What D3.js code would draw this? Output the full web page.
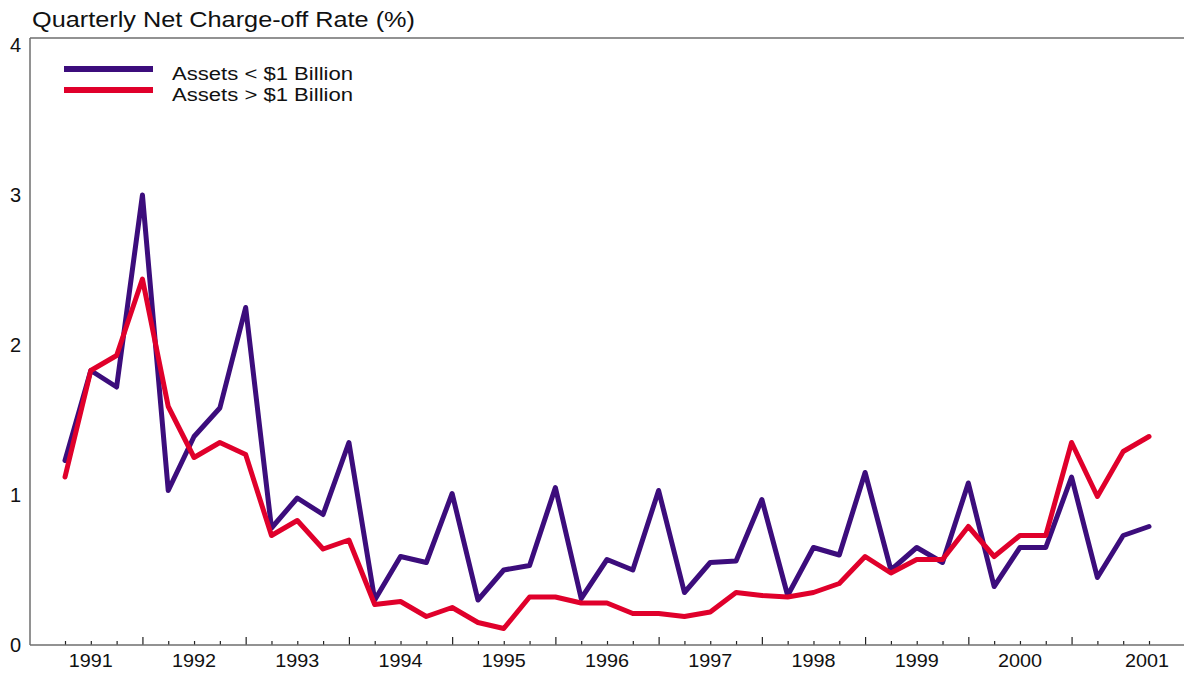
<!DOCTYPE html>
<html>
<head>
<meta charset="utf-8">
<script src="https://cdn.jsdelivr.net/npm/d3@7"></script>
<style>
  body { margin: 0; background: #fff; }
  svg { font-family: "Liberation Sans", Arial, sans-serif; }
</style>
</head>
<body>
<svg id="SVG_CONTAINER" width="1184" height="681"></svg>
<script>
// quarterly net charge-off rate (%), 1991 Q1 .. 2001 Q3
const years = [1991, 1992, 1993, 1994, 1995, 1996, 1997, 1998, 1999, 2000, 2001];
const yTicks = [0, 1, 2, 3, 4];
const smallBanks = [1.23, 1.83, 1.72, 3.00, 1.03, 1.39, 1.58, 2.25, 0.78, 0.98, 0.87, 1.35,
    0.30, 0.59, 0.55, 1.01, 0.30, 0.50, 0.53, 1.05, 0.31, 0.57, 0.50, 1.03,
    0.35, 0.55, 0.56, 0.97, 0.33, 0.65, 0.60, 1.15, 0.50, 0.65, 0.55, 1.08,
    0.39, 0.65, 0.65, 1.12, 0.45, 0.73, 0.79];
const largeBanks = [1.12, 1.83, 1.93, 2.44, 1.59, 1.25, 1.35, 1.27, 0.73, 0.83, 0.64, 0.70,
    0.27, 0.29, 0.19, 0.25, 0.15, 0.11, 0.32, 0.32, 0.28, 0.28, 0.21, 0.21,
    0.19, 0.22, 0.35, 0.33, 0.32, 0.35, 0.41, 0.59, 0.48, 0.57, 0.57, 0.79,
    0.59, 0.73, 0.73, 1.35, 0.99, 1.29, 1.39];
const seriesNames = ["Assets < $1 Billion", "Assets > $1 Billion"];
const seriesColours = ["#3c0d7c", "#e0002b"];

const MARGIN = {"LEFT": 30, "TOP": 38, "RIGHT": 1184, "BOTTOM": 645};

let svg = d3.select("#SVG_CONTAINER");
let nQ = smallBanks.length;

//** SCALES *****************************************
let xScale = d3.scaleLinear()
    .domain([0, nQ - 1])
    .range([65, 1149]);

let yScale = d3.scaleLinear()
    .domain([0, 4])
    .range([MARGIN.BOTTOM, 45]);

//** FRAME *****************************************
svg.append("line")
    .attr("x1", MARGIN.LEFT).attr("x2", MARGIN.RIGHT)
    .attr("y1", MARGIN.TOP).attr("y2", MARGIN.TOP)
    .attr("stroke", "#6e6e6e").attr("stroke-width", 1.5);
svg.append("line")
    .attr("x1", MARGIN.LEFT).attr("x2", MARGIN.LEFT)
    .attr("y1", MARGIN.TOP).attr("y2", MARGIN.BOTTOM)
    .attr("stroke", "#6e6e6e").attr("stroke-width", 1.5);

//** X AXIS *****************************************
let allQ = d3.range(nQ);
let minorAxis = d3.axisBottom(xScale)
    .tickValues(allQ.filter(i => i % 4 != 3))
    .tickSize(-4)
    .tickFormat("");
let majorAxis = d3.axisBottom(xScale)
    .tickValues(allQ.filter(i => i % 4 == 3))
    .tickSize(-8)
    .tickFormat("");

[minorAxis, majorAxis].forEach(ax => {
    let g = svg.append("g")
        .attr("transform", "translate(0," + MARGIN.BOTTOM + ")")
        .call(ax);
    g.select(".domain").remove();
    g.selectAll("line").attr("stroke", "#222").attr("stroke-width", 1.2);
});
svg.append("line")
    .attr("x1", MARGIN.LEFT).attr("x2", MARGIN.RIGHT)
    .attr("y1", MARGIN.BOTTOM).attr("y2", MARGIN.BOTTOM)
    .attr("stroke", "#6e6e6e").attr("stroke-width", 1.5);

// year labels sit in the middle of each year (between Q1 and Q2 points),
// the last one under the final quarter
let yearPos = (d, i) => i < years.length - 1 ? xScale(i * 4 + 1) : xScale(nQ - 1) - 2;
svg.append("g")
    .selectAll("text")
    .data(years)
    .enter()
    .append("text")
    .attr("x", (d, i) => yearPos(d, i) - 22)
    .attr("y", 667)
    .attr("font-size", 19)
    .attr("textLength", 44)
    .attr("lengthAdjust", "spacingAndGlyphs")
    .attr("fill", "#111")
    .text(d => d);

//** Y AXIS *****************************************
svg.append("g")
    .selectAll("text")
    .data(yTicks)
    .enter()
    .append("text")
    .attr("x", 21)
    .attr("y", d => yScale(d) + 7)
    .attr("text-anchor", "end")
    .attr("font-size", 20)
    .attr("fill", "#111")
    .text(d => d);

// title
svg.append("text")
    .attr("x", 32)
    .attr("y", 27)
    .attr("font-size", 22)
    .attr("textLength", 383)
    .attr("lengthAdjust", "spacingAndGlyphs")
    .attr("fill", "#111")
    .text("Quarterly Net Charge-off Rate (%)");

//** LINES *****************************************
let line = d3.line()
    .x((d, i) => xScale(i))
    .y(d => yScale(d));

[smallBanks, largeBanks].forEach((s, k) => {
    svg.append("path")
        .datum(s)
        .attr("d", line)
        .attr("fill", "none")
        .attr("stroke", seriesColours[k])
        .attr("stroke-width", 5)
        .attr("stroke-linejoin", "round")
        .attr("stroke-linecap", "round");
});

//** LEGEND *****************************************
seriesNames.forEach((name, k) => {
    let ly = 69 + k * 21;
    svg.append("line")
        .attr("x1", 64).attr("x2", 153)
        .attr("y1", ly).attr("y2", ly)
        .attr("stroke", seriesColours[k])
        .attr("stroke-width", 6);
    svg.append("text")
        .attr("x", 172)
        .attr("y", ly + 11)
        .attr("font-size", 18)
        .attr("textLength", 181)
        .attr("lengthAdjust", "spacingAndGlyphs")
        .attr("fill", "#111")
        .text(name);
});
</script>
</body>
</html>
